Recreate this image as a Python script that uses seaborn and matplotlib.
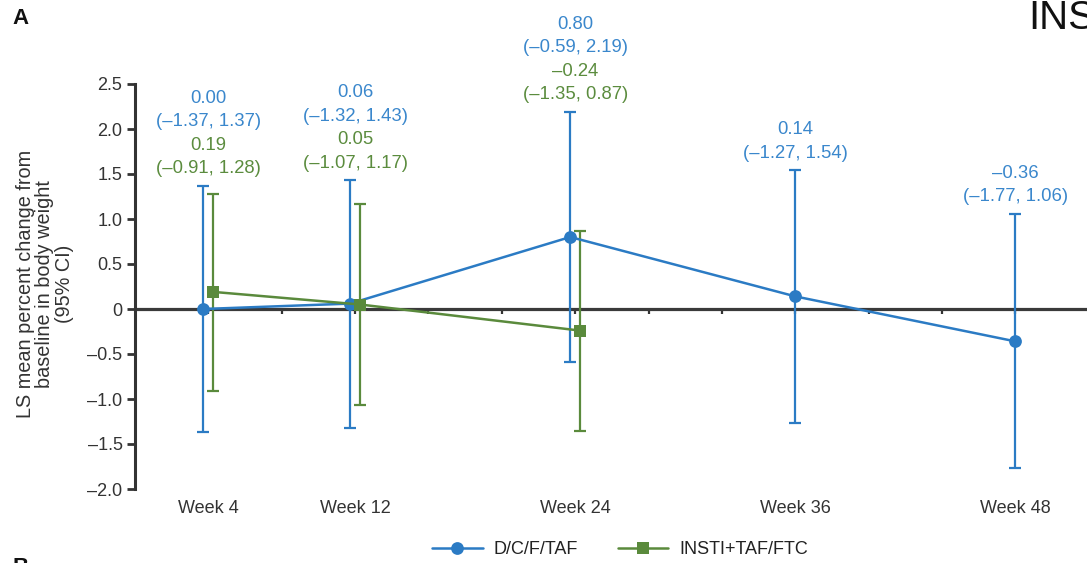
import numpy as np
import pandas as pd
import matplotlib
matplotlib.use("Agg")
import matplotlib.pyplot as plt
import seaborn as sns

# Study visits (weeks) and their axis labels
weeks = [4, 12, 24, 36, 48]
week_labels = ["Week 4", "Week 12", "Week 24", "Week 36", "Week 48"]
minor_weeks = list(range(4, 49, 4))

arms = ["D/C/F/TAF", "INSTI+TAF/FTC"]

# D/C/F/TAF: LS mean % change with 95% CI
dcf_weeks = [4, 12, 24, 36, 48]
dcf_mean = [0.00, 0.06, 0.80, 0.14, -0.36]
dcf_lo = [-1.37, -1.32, -0.59, -1.27, -1.77]
dcf_hi = [1.37, 1.43, 2.19, 1.54, 1.06]

# INSTI+TAF/FTC: LS mean % change with 95% CI
insti_weeks = [4, 12, 24]
insti_mean = [0.19, 0.05, -0.24]
insti_lo = [-0.91, -1.07, -1.35]
insti_hi = [1.28, 1.17, 0.87]

y_ticks = [-2.0, -1.5, -1.0, -0.5, 0.0, 0.5, 1.0, 1.5, 2.0, 2.5]
y_tick_labels = ["–2.0", "–1.5", "–1.0", "–0.5", "0", "0.5", "1.0", "1.5", "2.0", "2.5"]

line_colors = {"D/C/F/TAF": "#2b7bc4", "INSTI+TAF/FTC": "#5a8a3c"}
text_colors = {"D/C/F/TAF": "#3a87cc", "INSTI+TAF/FTC": "#5b8c3e"}
markers = {"D/C/F/TAF": "o", "INSTI+TAF/FTC": "s"}

df = pd.concat([
    pd.DataFrame({"arm": arms[0], "week": dcf_weeks, "mean": dcf_mean,
                  "lo": dcf_lo, "hi": dcf_hi}),
    pd.DataFrame({"arm": arms[1], "week": insti_weeks, "mean": insti_mean,
                  "lo": insti_lo, "hi": insti_hi}),
], ignore_index=True)

# Dodge the two arms apart at visits where both were measured
n_at_week = df.groupby("week")["arm"].transform("count")
side = df["arm"].map({arms[0]: -1, arms[1]: 1})
df["xpos"] = df["week"] + np.where(n_at_week > 1, side * 0.27, 0.0)

sns.set_theme(style="white")
plt.rcParams["font.family"] = ["Liberation Sans", "DejaVu Sans"]

W, H = 1087, 563
fig = plt.figure(figsize=(W / 100, H / 100), dpi=100)
ax = fig.add_axes([135 / W, (H - 489) / H, (W - 135) / W, 405 / H])

# Confidence-interval bars
for arm in arms:
    d = df[df["arm"] == arm]
    ax.errorbar(d["xpos"], d["mean"],
                yerr=[d["mean"] - d["lo"], d["hi"] - d["mean"]],
                fmt="none", ecolor=line_colors[arm], elinewidth=1.6,
                capsize=4, capthick=1.6, zorder=3)

# Mean trajectories
sns.lineplot(data=df, x="xpos", y="mean", hue="arm", style="arm",
             hue_order=arms, style_order=arms, palette=line_colors,
             markers=markers, dashes=False, markersize=9.2,
             markeredgewidth=0, linewidth=1.8, errorbar=None,
             ax=ax, zorder=4)


def fmt(v):
    return f"{v:.2f}".replace("-", "–")


# Value + CI annotations stacked above each visit
step = 23.5
for wk in weeks:
    sub = df[df["week"] == wk]
    top = sub["hi"].max()
    lines = []
    for arm in arms:
        r = sub[sub["arm"] == arm]
        if len(r):
            r = r.iloc[0]
            lines.append((fmt(r["mean"]), text_colors[arm]))
            lines.append((f"({fmt(r['lo'])}, {fmt(r['hi'])})", text_colors[arm]))
    for i, (txt, col) in enumerate(reversed(lines)):
        ax.annotate(txt, xy=(wk, top), xytext=(0, 17 + i * step),
                    textcoords="offset pixels", ha="center", va="center",
                    fontsize=13.3, color=col, annotation_clip=False)

ax.set_xlim(0, 51.9)
ax.set_ylim(-2.0, 2.5)
ax.set_xlabel("")
ax.set_ylabel("")

for s in ["top", "right"]:
    ax.spines[s].set_visible(False)
ax.spines["left"].set_color("#333333")
ax.spines["left"].set_linewidth(2.2)
ax.spines["bottom"].set_position(("data", 0))
ax.spines["bottom"].set_color("#3a3a3a")
ax.spines["bottom"].set_linewidth(2.3)
ax.spines["bottom"].set_zorder(2)

ax.set_yticks(y_ticks)
ax.set_yticklabels(y_tick_labels)
ax.tick_params(axis="y", direction="out", length=6, width=2, color="#333333",
               labelsize=13, labelcolor="#333333", pad=3, left=True)
ax.set_xticks(minor_weeks)
ax.tick_params(axis="x", direction="out", length=3.5, width=1.6,
               color="#333333", labelbottom=False, bottom=True)

sec = ax.secondary_xaxis("bottom")
sec.set_xticks(weeks)
sec.set_xticklabels(week_labels)
sec.spines["bottom"].set_visible(False)
sec.tick_params(length=0, pad=8, labelsize=13, labelcolor="#333333")

fig.text(45 / W, (H - 284) / H,
         "LS mean percent change from\nbaseline in body weight\n(95% CI)",
         rotation=90, ha="center", va="center", multialignment="center",
         fontsize=14.3, color="#333333", linespacing=1.05)

handles, labels = ax.get_legend_handles_labels()
ax.get_legend().remove()
fig.legend(handles, labels, loc="center", bbox_to_anchor=(620 / W, 13 / H),
           ncol=2, frameon=False, fontsize=13, handlelength=2.8,
           columnspacing=2.2, handletextpad=0.6, labelcolor="#222222")

fig.text(12 / W, (H - 18) / H, "A", fontsize=16, fontweight="bold",
         ha="left", va="center", color="#111111")
fig.text(1028 / W, (H - 18) / H, "INS", fontsize=29, ha="left", va="center",
         color="#111111")
fig.text(12 / W, (H - 557) / H, "B", fontsize=16, fontweight="bold",
         ha="left", va="top", color="#111111")

fig.savefig("out.png", dpi=100)
